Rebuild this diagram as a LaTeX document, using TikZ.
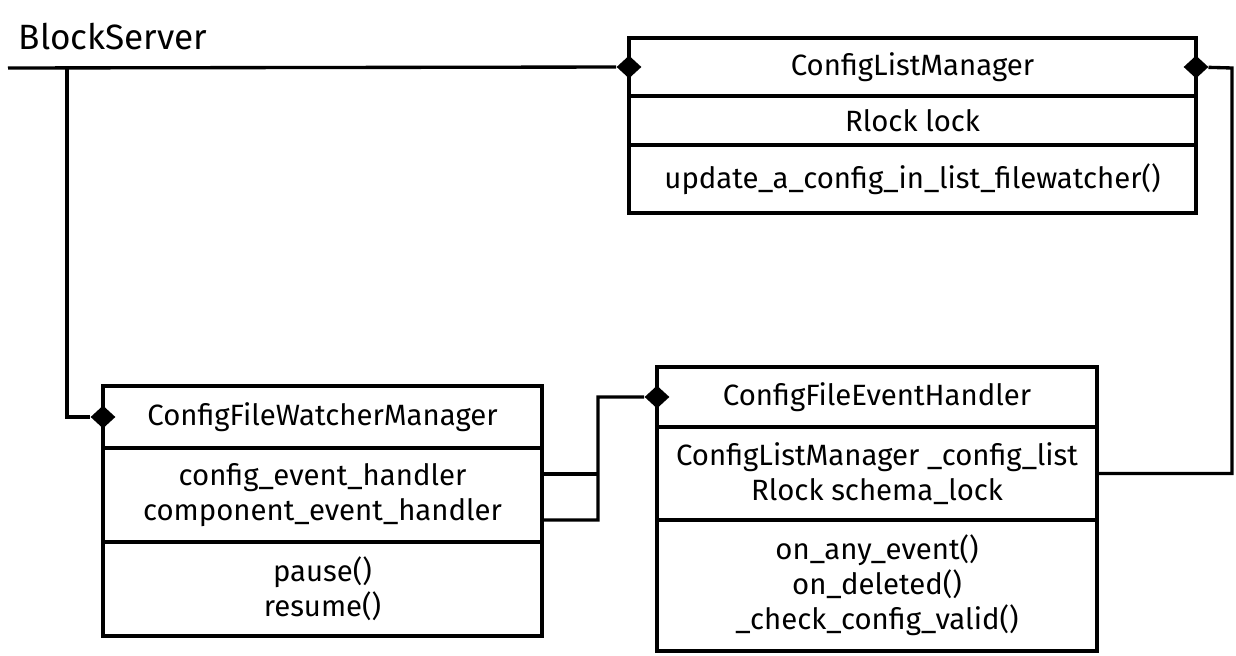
\documentclass[tikz,border=0pt]{standalone}
\usepackage{fontspec}
\setmainfont{Fira Sans}
\usepackage{tikz}
\usetikzlibrary{shapes,positioning}

\tikzset{
  classbox/.style={draw, line width=2.6pt, outer sep=0pt, inner sep=2pt, align=center,
    font=\fontsize{16.7}{19.8}\selectfont},
  link/.style={line width=1.9pt},
  agg/.style={diamond, fill=black, draw=none, inner sep=0pt, minimum width=0.5cm, minimum height=0.46cm}
}

\begin{document}
\begin{tikzpicture}
\useasboundingbox (0,0) rectangle (24.72,13.1);

\node[font=\fontsize{20}{24}\selectfont] (bs) at (2.26,12.36) {BlockServer};

% ConfigListManager
\node[classbox, minimum width=11.34cm, minimum height=1.16cm, anchor=north] (clm) at (18.25,12.34) {ConfigListManager};
\node[classbox, minimum width=11.34cm, minimum height=0.98cm, below=0pt of clm] (clma) {Rlock lock};
\node[classbox, minimum width=11.34cm, minimum height=1.36cm, below=0pt of clma] (clmo) {update\_a\_config\_in\_list\_filewatcher()};

% ConfigFileWatcherManager
\node[classbox, minimum width=8.78cm, minimum height=1.24cm, anchor=north] (fwm) at (6.45,5.38) {ConfigFileWatcherManager};
\node[classbox, minimum width=8.78cm, minimum height=1.88cm, below=0pt of fwm] (fwma) {config\_event\_handler\\component\_event\_handler};
\node[classbox, minimum width=8.78cm, minimum height=1.88cm, below=0pt of fwma] (fwmo) {pause()\\resume()};

% ConfigFileEventHandler
\node[classbox, minimum width=8.80cm, minimum height=1.20cm, anchor=north] (feh) at (17.54,5.76) {ConfigFileEventHandler};
\node[classbox, minimum width=8.80cm, minimum height=1.86cm, below=0pt of feh] (feha) {ConfigListManager \_config\_list\\Rlock schema\_lock};
\node[classbox, minimum width=8.80cm, minimum height=2.62cm, below=0pt of feha] (feho) {on\_any\_event()\\on\_deleted()\\\_check\_config\_valid()};

% diamonds
\node[agg] (dclml) at (clm.west) {};
\node[agg] (dclmr) at (clm.east) {};
\node[agg] (dfwm) at (fwm.west) {};
\node[agg] (dfeh) at (feh.west) {};

\coordinate (bsleft) at (0.16,11.74);
\coordinate (bsdrop) at (1.34,11.74);
\coordinate (rturn) at (24.64,11.74);
\coordinate (jn) at (11.96,5.16);
\coordinate (ha) at ([yshift=0.42cm]fwma.east);
\coordinate (hb) at ([yshift=-0.5cm]fwma.east);

\draw[link] (bsleft) -- (dclml);
\draw[link] (bsdrop) |- (dfwm);
\draw[link] (feha.east) -| (rturn) -- (dclmr);
\draw[link] (ha) -- (ha -| jn);
\draw[link] (hb) -| (jn) -- (dfeh);
\end{tikzpicture}
\end{document}
